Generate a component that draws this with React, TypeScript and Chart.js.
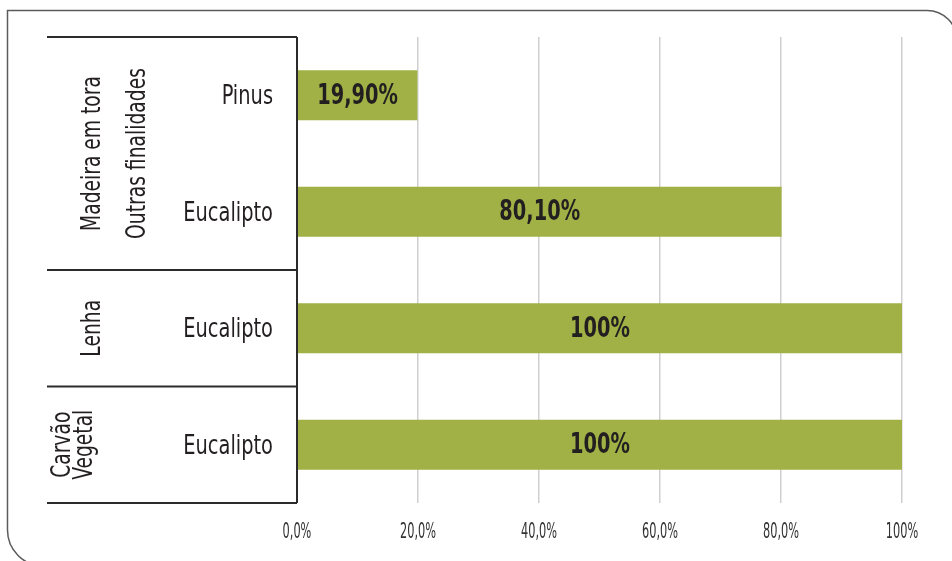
import React, { useEffect, useRef } from "react";
import { Chart, registerables } from "chart.js";

Chart.register(...registerables);

const categories = ["Pinus", "Eucalipto", "Eucalipto", "Eucalipto"];
const values = [19.9, 80.1, 100, 100];
const valueLabels = ["19,90%", "80,10%", "100%", "100%"];
const xTickLabels = ["0,0%", "20,0%", "40,0%", "60,0%", "80,0%", "100%"];
// groups: first / last category index and text lines
const groupStarts = [0, 2, 3];
const groupEnds = [1, 2, 3];
const groupLines = [
  ["Madeira em tora", "Outras finalidades"],
  ["Lenha"],
  ["Carvão", "Vegetal"],
];
const groupBaselines = [
  [100, 145],
  [100],
  [70, 92],
];

const FONT = "'DejaVu Sans Condensed', 'DejaVu Sans', sans-serif";
const BAR_COLOR = "#a2b145";
const TEXT_COLOR = "#231f20";

function drawText(
  ctx: CanvasRenderingContext2D,
  text: string,
  x: number,
  y: number,
  font: string,
  sx: number,
  align: CanvasTextAlign,
  baseline: CanvasTextBaseline,
  color: string,
  rotate = 0
) {
  ctx.save();
  ctx.font = font;
  ctx.fillStyle = color;
  ctx.textAlign = align;
  ctx.textBaseline = baseline;
  ctx.translate(x, y);
  if (rotate) ctx.rotate(rotate);
  ctx.scale(sx, 1);
  ctx.fillText(text, 0, 0);
  ctx.restore();
}

const decorPlugin = {
  id: "decor",
  beforeDraw(chart: any) {
    const ctx = chart.ctx;
    ctx.save();
    ctx.fillStyle = "#ffffff";
    ctx.fillRect(0, 0, chart.width, chart.height);
    const l = 7.5, t = 10.5, r = 957, b = 566, rTR = 30, rBL = 36;
    ctx.strokeStyle = "#5b5b5b";
    ctx.lineWidth = 1.5;
    ctx.beginPath();
    ctx.moveTo(l, t);
    ctx.lineTo(r - rTR, t);
    ctx.arcTo(r, t, r, t + rTR, rTR);
    ctx.lineTo(r, b);
    ctx.lineTo(l + rBL, b);
    ctx.arcTo(l, b, l, b - rBL, rBL);
    ctx.closePath();
    ctx.stroke();
    ctx.restore();
  },
  afterDatasetsDraw(chart: any) {
    const ctx = chart.ctx;
    const area = chart.chartArea;
    const xs = chart.scales.x;
    const ys = chart.scales.y;
    const meta = chart.getDatasetMeta(0);
    // bar value labels
    meta.data.forEach((bar: any, i: number) => {
      drawText(ctx, valueLabels[i], (bar.x + bar.base) / 2, bar.y + 1,
        `bold 28px ${FONT}`, 0.77, "center", "middle", TEXT_COLOR);
    });
    // x tick labels
    xs.ticks.forEach((_t: any, i: number) => {
      drawText(ctx, xTickLabels[i], xs.getPixelForTick(i), area.bottom + 35,
        `21px ${FONT}`, 0.6, "center", "alphabetic", "#333333");
    });
    // y tick labels (sub-categories)
    ys.ticks.forEach((_t: any, i: number) => {
      drawText(ctx, categories[i], area.left - 24, ys.getPixelForTick(i) + 9,
        `26px ${FONT}`, 0.83, "right", "alphabetic", TEXT_COLOR);
    });
    // table lines
    const left = 47;
    const step = (area.bottom - area.top) / categories.length;
    ctx.save();
    ctx.strokeStyle = "#2b2b2b";
    ctx.lineWidth = 2;
    ctx.beginPath();
    ctx.moveTo(left, area.top);
    ctx.lineTo(area.left, area.top);
    ctx.moveTo(area.left, area.top);
    ctx.lineTo(area.left, area.bottom);
    groupEnds.forEach((e) => {
      const yy = ys.getPixelForValue(e) + step / 2;
      ctx.moveTo(left, yy);
      ctx.lineTo(area.left, yy);
    });
    ctx.stroke();
    ctx.restore();
    // group labels (rotated)
    groupLines.forEach((lines, g) => {
      const top = ys.getPixelForValue(groupStarts[g]) - step / 2;
      const bottom = ys.getPixelForValue(groupEnds[g]) + step / 2;
      const cy = (top + bottom) / 2;
      lines.forEach((line, k) => {
        drawText(ctx, line, groupBaselines[g][k], cy, `26px ${FONT}`, 0.8,
          "center", "alphabetic", TEXT_COLOR, -Math.PI / 2);
      });
    });
  },
};

export default function App() {
  const ref = useRef<HTMLCanvasElement>(null);
  useEffect(() => {
    if (!ref.current) return;
    const chart = new Chart(ref.current, {
      type: "bar",
      data: {
        labels: categories,
        datasets: [
          {
            data: values,
            backgroundColor: BAR_COLOR,
            borderWidth: 0,
            barPercentage: 0.43,
            categoryPercentage: 1,
          },
        ],
      },
      options: {
        indexAxis: "y",
        responsive: false,
        animation: false,
        layout: { padding: { top: 37, right: 50, left: 0, bottom: 0 } },
        plugins: { legend: { display: false }, tooltip: { enabled: false } },
        scales: {
          x: {
            min: 0,
            max: 100,
            ticks: { stepSize: 20, display: false },
            grid: { color: "#cfcfcf", lineWidth: 1.5, drawTicks: false },
            border: { display: false },
            afterFit: (s: any) => {
              s.height = 58;
            },
          },
          y: {
            ticks: { display: false },
            grid: { display: false, drawTicks: false },
            border: { display: false },
            afterFit: (s: any) => {
              s.width = 297;
            },
          },
        },
      },
      plugins: [decorPlugin],
    });
    return () => chart.destroy();
  }, []);
  return (
    <div style={{ position: "absolute", left: 0, top: 0, width: 952, height: 561 }}>
      <canvas ref={ref} width={952} height={561} style={{ display: "block" }} />
    </div>
  );
}
